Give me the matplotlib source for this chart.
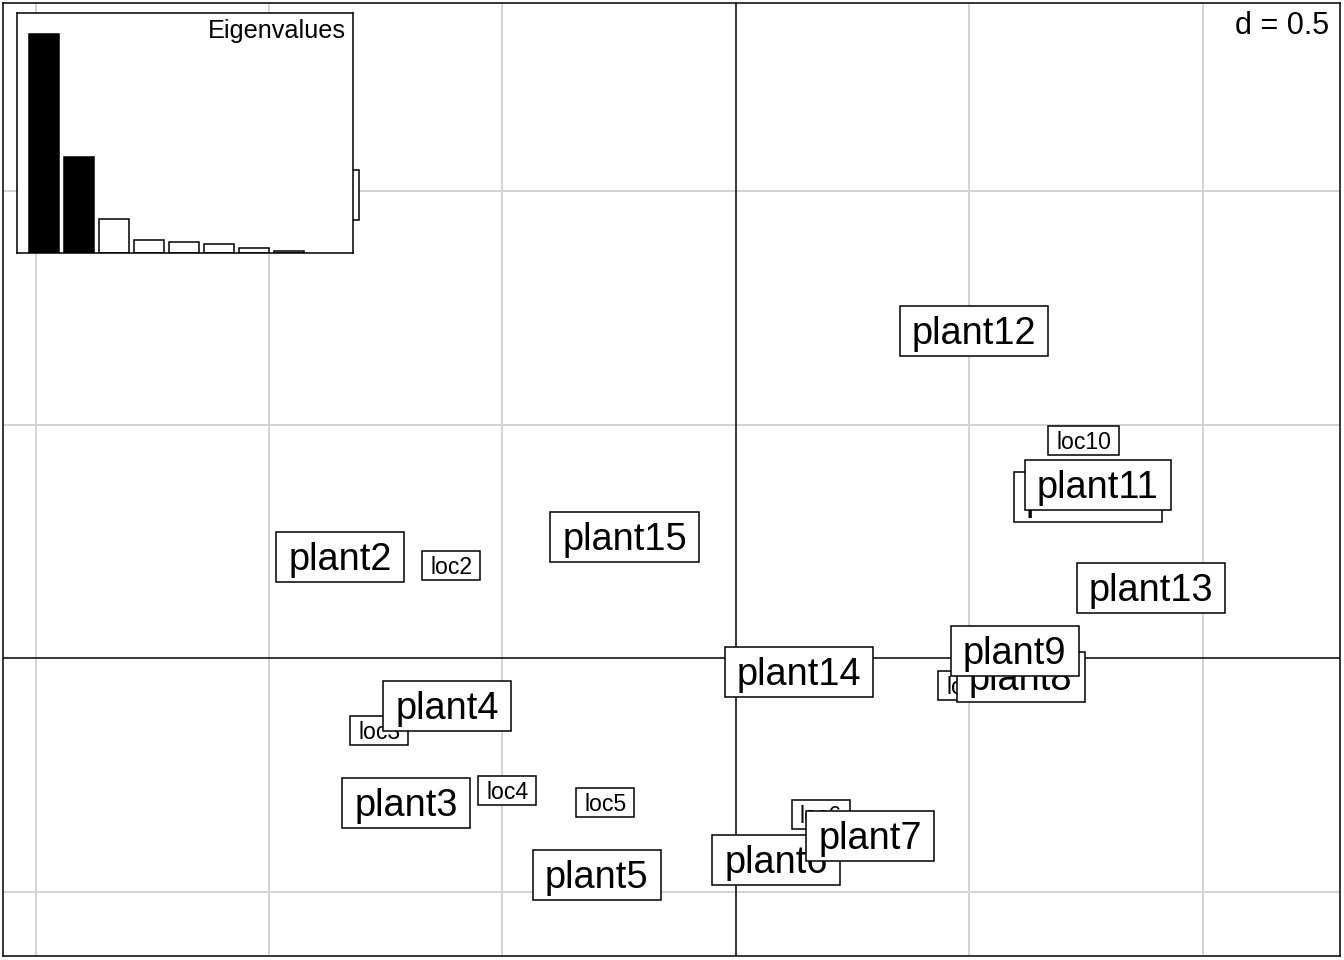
import matplotlib
matplotlib.use("Agg")
import matplotlib.pyplot as plt
import matplotlib.patches as mpatches

plt.rcParams["font.family"] = ["Liberation Sans", "DejaVu Sans"]

# ── data ──────────────────────────────────────────────────────────────────────
plant_names = ["plant1", "plant2", "plant3", "plant4", "plant5", "plant6", "plant7",
               "plant8", "plant9", "plant10", "plant11", "plant12", "plant13",
               "plant14", "plant15"]
plant_x = [-0.944, -0.848, -0.707, -0.619, -0.298, 0.086, 0.287,
           0.610, 0.597, 0.754, 0.775, 0.510, 0.889, 0.135, -0.238]
plant_y = [0.991, 0.216, -0.310, -0.103, -0.465, -0.433, -0.381,
           -0.041, 0.015, 0.345, 0.370, 0.700, 0.150, -0.030, 0.259]

loc_names = ["loc2", "loc3", "loc4", "loc5", "loc6", "loc9", "loc10"]
loc_x = [-0.610, -0.764, -0.490, -0.280, 0.182, 0.495, 0.745]
loc_y = [0.199, -0.156, -0.283, -0.310, -0.336, -0.058, 0.465]

eigenvalues = [2.18, 0.96, 0.34, 0.13, 0.11, 0.09, 0.05, 0.02]
n_kept = 2

grid_x = [-1.5, -1.0, -0.5, 0.5, 1.0]
grid_y = [-0.5, 0.5, 1.0]

# ── figure ───────────────────────────────────────────────────────────────────
W, H, DPI = 1344, 960, 100
fig = plt.figure(figsize=(W / DPI, H / DPI), dpi=DPI)
ax = fig.add_axes([3 / W, 4 / H, 1337 / W, 953 / H])
ax.set_xlim(-1.5696, 1.2934)
ax.set_ylim(-0.638, 1.4026)
ax.set_xticks([])
ax.set_yticks([])
for sp in ax.spines.values():
    sp.set_linewidth(1.1)

px = 1 / 467.0  # data units per pixel

for gx in grid_x:
    ax.axvline(gx, color="#d3d3d3", linewidth=1.4, zorder=0)
for gy in grid_y:
    ax.axhline(gy, color="#d3d3d3", linewidth=1.4, zorder=0)
ax.axvline(0, color="black", linewidth=1.1, zorder=1)
ax.axhline(0, color="black", linewidth=1.1, zorder=1)

fig.canvas.draw()
renderer = fig.canvas.get_renderer()
inv = ax.transData.inverted()


def boxed_label(x, y, txt, size, padx, boxh, dy, z):
    # text nudged down a few pixels so it sits centred in the box like R
    t = ax.text(x, y - dy * px, txt, fontsize=size, ha="center", va="center",
                zorder=z + 1)
    bb = t.get_window_extent(renderer)
    (x0, _), (x1, _) = inv.transform([(bb.x0, bb.y0), (bb.x1, bb.y1)])
    w = (x1 - x0) + 2 * padx * px
    h = boxh * px
    ax.add_patch(mpatches.Rectangle((x - w / 2, y - h / 2), w, h,
                                    facecolor="white", edgecolor="black",
                                    linewidth=1.1, zorder=z))


z = 2
for name, x, y in zip(loc_names, loc_x, loc_y):
    boxed_label(x, y, name, 16.6, 8, 29, 2, z)
    z += 2
for name, x, y in zip(plant_names, plant_x, plant_y):
    boxed_label(x, y, name, 27.4, 12, 50, 3, z)
    z += 2

ax.text(0.9915, 0.992, "d = 0.5", transform=ax.transAxes, ha="right", va="top",
        fontsize=22, zorder=100,
        bbox=dict(facecolor="white", edgecolor="none", pad=1))

# ── eigenvalue inset ──────────────────────────────────────────────────────────
ins = fig.add_axes([17 / W, (H - 253) / H, 336 / W, 240 / H])
ins.set_xticks([])
ins.set_yticks([])
for sp in ins.spines.values():
    sp.set_linewidth(1.1)
colors = ["black" if i < n_kept else "white" for i in range(len(eigenvalues))]
ins.bar(range(len(eigenvalues)), eigenvalues, width=0.88, color=colors,
        edgecolor="black", linewidth=1.1)
ins.set_xlim(-0.77, 8.83)
ins.set_ylim(0, eigenvalues[0] * 239 / 218)
ins.text(0.98, 0.975, "Eigenvalues", transform=ins.transAxes, ha="right",
         va="top", fontsize=18.2)

fig.savefig("out.png", dpi=DPI)
